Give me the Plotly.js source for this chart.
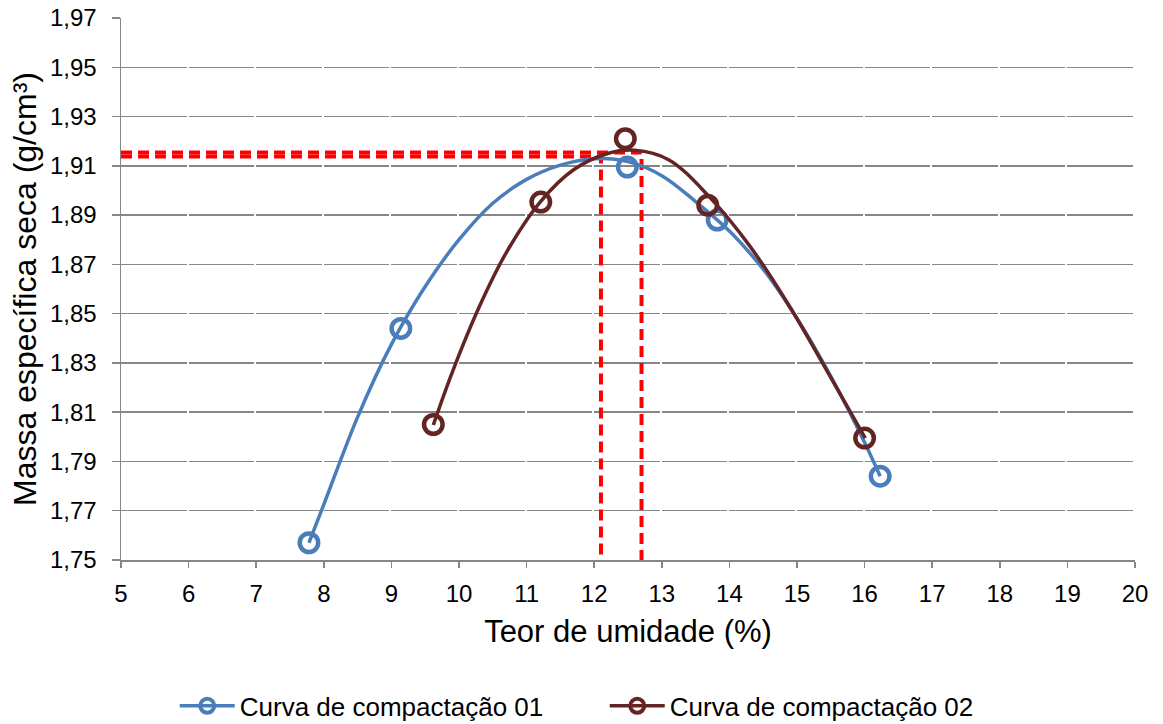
<!DOCTYPE html>
<html>
<head>
<meta charset="utf-8">
<script src="https://cdn.plot.ly/plotly-3.0.1.min.js"></script>
<style>html,body{margin:0;padding:0;background:#fff;}#chart{width:1163px;height:724px;}</style>
</head>
<body>
<div id="chart"></div>
<script>
// Measured points (markers)
const serie1X = [7.78, 9.14, 12.49, 13.82, 16.23];
const serie1Y = [1.757, 1.844, 1.9095, 1.888, 1.784];
const serie2X = [9.62, 11.21, 12.46, 13.68, 16.0];
const serie2Y = [1.805, 1.8953, 1.921, 1.894, 1.7995];

// Fitted curves
const curva1X = [7.78, 8.0, 8.5, 9.0, 9.5, 10.0, 10.5, 11.0, 11.5, 12.0, 12.5, 13.0, 13.5, 14.0, 14.5, 15.0, 15.5, 16.0, 16.23];
const curva1Y = [1.757, 1.7725, 1.808, 1.8375, 1.861, 1.880, 1.8948, 1.9045, 1.9103, 1.9129, 1.9117, 1.906, 1.8955, 1.8835, 1.868, 1.848, 1.8245, 1.7977, 1.784];
const curva2X = [9.62, 9.9, 10.3, 10.7, 11.2, 11.7, 12.2, 12.6, 13.1, 13.7, 14.3, 14.9, 15.46, 16.01];
const curva2Y = [1.8048, 1.8262, 1.8528, 1.8748, 1.8953, 1.9085, 1.915, 1.9163, 1.9125, 1.8975, 1.8775, 1.8525, 1.826, 1.7995];

// Optimum values (umidade ótima, massa específica máxima)
const umidadeOtima = [12.1, 12.7];
const massaMaxima = [1.9138, 1.9154];

const nomes = ["Curva de compactação 01", "Curva de compactação 02"];
const cores = ["#4A7EBB", "#632523"];

const xMin = 5, xMax = 20, yMin = 1.75, yMax = 1.97;

const FONT = '"Liberation Sans", Arial, sans-serif';
const traces = [];

// red dashed reference lines
for (let i = 0; i < umidadeOtima.length; i++) {
  traces.push({
    x: [xMin, umidadeOtima[i], umidadeOtima[i]],
    y: [massaMaxima[i], massaMaxima[i], yMin],
    mode: 'lines', showlegend: false, hoverinfo: 'skip',
    line: {color: '#FF0000', width: 4, dash: '11px,6px'}
  });
}

const curvasX = [curva1X, curva2X], curvasY = [curva1Y, curva2Y];
const ptsX = [serie1X, serie2X], ptsY = [serie1Y, serie2Y];
for (let i = 0; i < 2; i++) {
  traces.push({
    x: curvasX[i], y: curvasY[i], mode: 'lines', showlegend: false,
    line: {color: cores[i], width: 3.5, shape: 'spline', smoothing: 1}
  });
  traces.push({
    x: ptsX[i], y: ptsY[i], mode: 'markers', showlegend: false,
    marker: {symbol: 'circle-open', size: 18.5, color: cores[i], line: {color: cores[i], width: 4.5}}
  });
}
// legend entries
for (let i = 0; i < 2; i++) {
  traces.push({
    x: [null], y: [null], mode: 'lines+markers', name: nomes[i],
    line: {color: cores[i], width: 3.5},
    marker: {symbol: 'circle-open', size: 14, color: cores[i], line: {color: cores[i], width: 4}}
  });
}

const layout = {
  width: 1163, height: 724,
  margin: {l: 121, r: 28, t: 18, b: 164},
  paper_bgcolor: '#fff', plot_bgcolor: '#fff',
  separators: ', ',
  font: {family: FONT, color: '#000'},
  showlegend: true,
  xaxis: {
    range: [xMin, xMax], dtick: 1, tick0: 5, automargin: false,
    showgrid: false, zeroline: false,
    showline: true, linecolor: '#868686', linewidth: 1.5,
    ticks: 'outside', ticklen: 6, tickwidth: 1.5, tickcolor: '#868686',
    tickfont: {size: 24, family: FONT, color: '#000'},
    ticklabelstandoff: 6,
    title: {text: 'Teor de umidade (%)', font: {size: 31, family: FONT, color: '#000'}, standoff: 14}
  },
  yaxis: {
    range: [yMin, yMax], dtick: 0.02, tick0: 1.75, tickformat: '.2f', automargin: false,
    showgrid: true, gridcolor: '#868686', gridwidth: 1.5, griddash: '65.6px,2px',
    zeroline: false,
    showline: true, linecolor: '#868686', linewidth: 1.5,
    ticks: 'outside', ticklen: 8, tickwidth: 1.5, tickcolor: '#868686',
    tickfont: {size: 24, family: FONT, color: '#000'},
    ticklabelstandoff: 10,
    title: {text: 'Massa específica seca (g/cm³)', font: {size: 32, family: FONT, color: '#000'}, standoff: 4}
  },
  legend: {
    orientation: 'h', x: 0.053, xanchor: 'left',
    yref: 'container', y: 0.025, yanchor: 'middle',
    font: {size: 26, family: FONT, color: '#000'},
    itemwidth: 55, entrywidth: 360, bgcolor: 'rgba(0,0,0,0)'
  }
};

Plotly.newPlot('chart', traces, layout, {displayModeBar: false, staticPlot: true});
</script>
</body>
</html>
